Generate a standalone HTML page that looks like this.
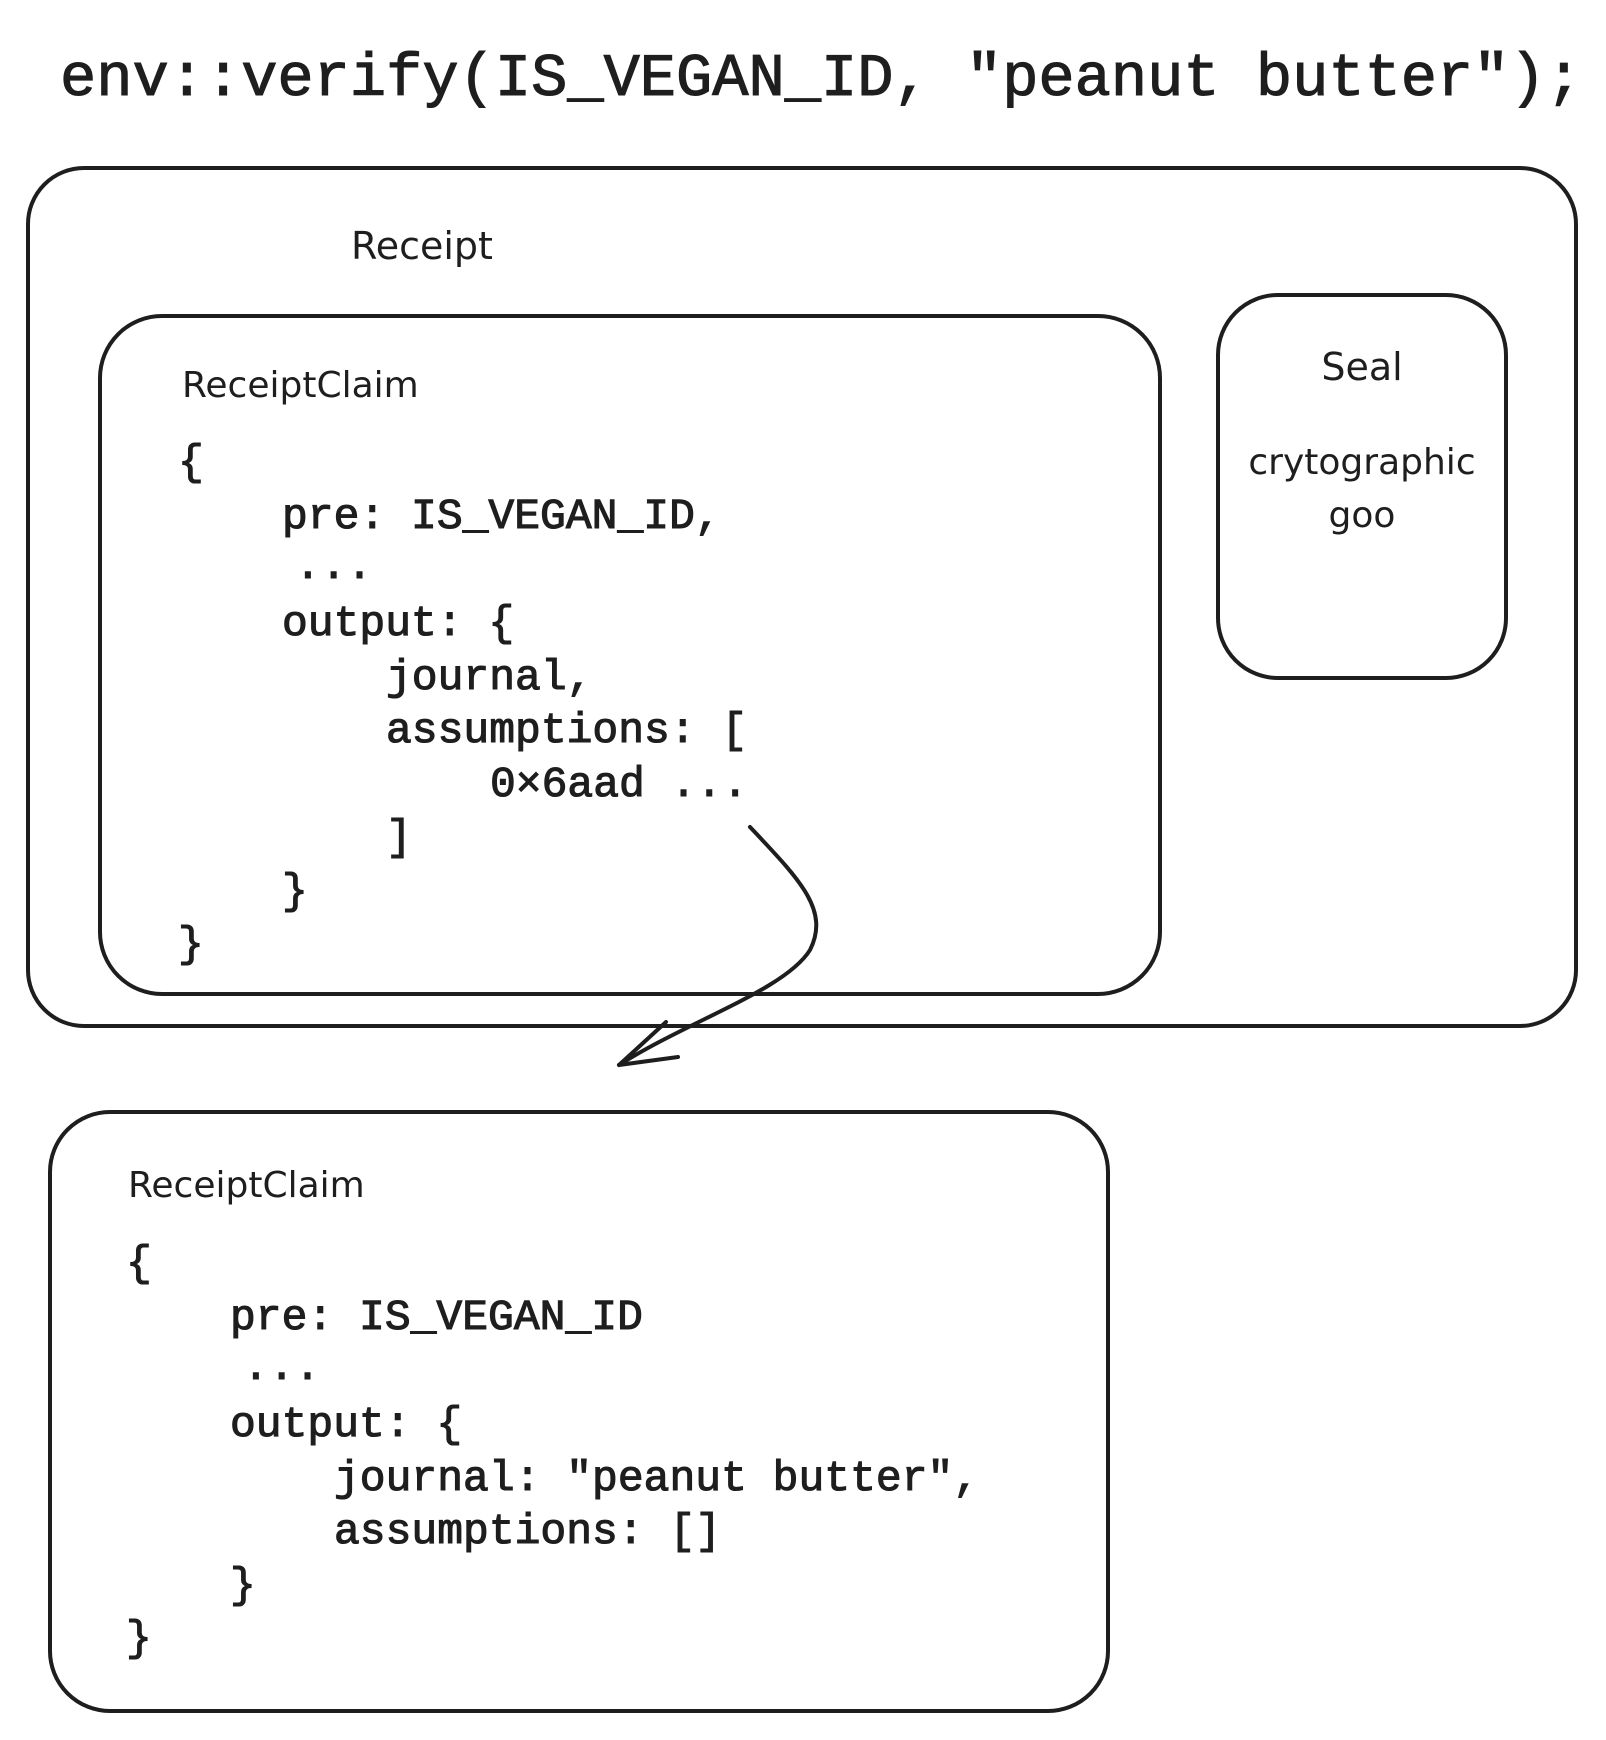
<!DOCTYPE html>
<html><head><meta charset="utf-8"><style>
html,body{margin:0;padding:0;background:#fff;width:1606px;height:1740px;overflow:hidden}
svg{display:block}
.m{font-family:"Liberation Mono",monospace;font-weight:normal;fill:#1e1e1e;stroke:#1e1e1e;stroke-width:1.1}
.h{font-family:"Comic Sans MS","DejaVu Sans","Liberation Sans",sans-serif;fill:#1e1e1e}
</style></head><body>
<svg width="1606" height="1740" viewBox="0 0 1606 1740" xmlns="http://www.w3.org/2000/svg">
<g fill="none" stroke="#1e1e1e" stroke-width="4" stroke-linecap="round">
<rect x="28" y="168" width="1548" height="858" rx="56"/>
<rect x="100" y="316" width="1060" height="678" rx="62"/>
<rect x="1218" y="295" width="288" height="383" rx="60"/>
<rect x="50" y="1112" width="1058" height="599" rx="60"/>
<path d="M750 827 C800 880 830 910 810 950 C785 990 690 1020 619 1065"/>
<path d="M619 1065 L678 1057 M619 1065 L666 1022"/>
</g>
<text class="m" x="60" y="95" font-size="60" textLength="1522" lengthAdjust="spacingAndGlyphs">env::verify(IS_VEGAN_ID, "peanut butter");</text>
<text class="h" x="351" y="259" font-size="38">Receipt</text>
<text class="h" x="1362" y="380" font-size="38" text-anchor="middle">Seal</text>
<text class="h" x="1362" y="474" font-size="36" text-anchor="middle">crytographic</text>
<text class="h" x="1362" y="527" font-size="36" text-anchor="middle">goo</text>
<text class="h" x="182" y="397" font-size="36">ReceiptClaim</text>
<g class="m" font-size="43">
<text x="178" y="474">{</text>
<text x="282" y="528">pre: IS_VEGAN_ID,</text>
<text x="295" y="578">...</text>
<text x="282" y="635">output: {</text>
<text x="386" y="689">journal,</text>
<text x="386" y="742">assumptions: [</text>
<text x="490" y="796">0×6aad ...</text>
<text x="386" y="849">]</text>
<text x="282" y="903">}</text>
<text x="178" y="956">}</text>
</g>
<text class="h" x="128" y="1197" font-size="36">ReceiptClaim</text>
<g class="m" font-size="43">
<text x="126" y="1275">{</text>
<text x="230" y="1329">pre: IS_VEGAN_ID</text>
<text x="243" y="1379">...</text>
<text x="230" y="1436">output: {</text>
<text x="334" y="1490">journal: "peanut butter",</text>
<text x="334" y="1543">assumptions: []</text>
<text x="230" y="1597">}</text>
<text x="126" y="1650">}</text>
</g>
</svg>
</body></html>
